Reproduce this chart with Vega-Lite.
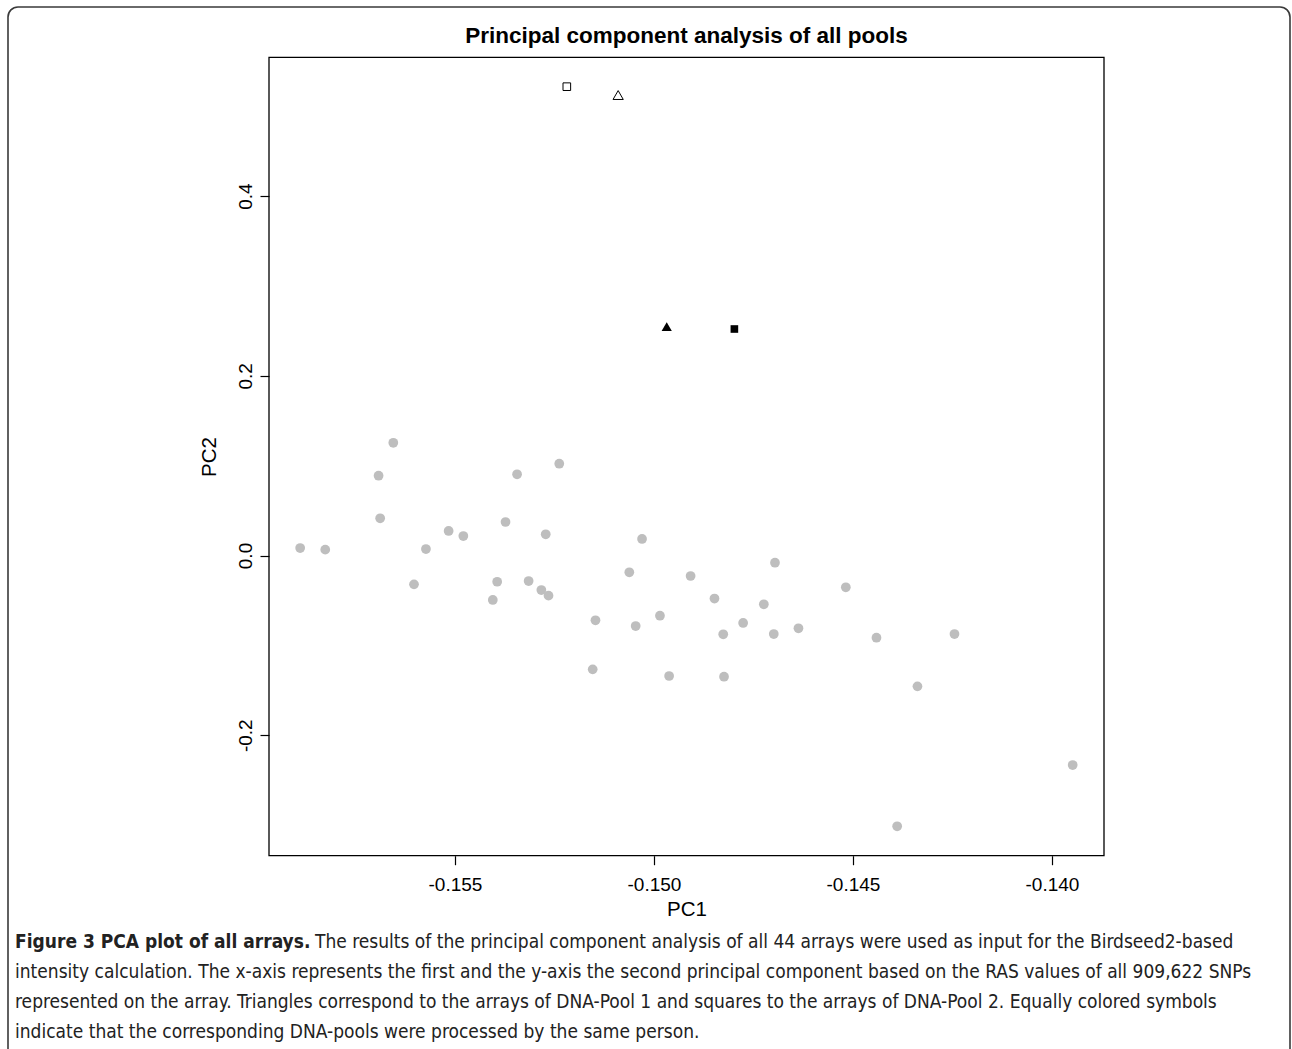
{
  "$schema": "https://vega.github.io/schema/vega-lite/v6.json",
  "width": 1282,
  "height": 1060,
  "autosize": {"type": "none"},
  "padding": {"left": 8, "top": 7, "right": 2, "bottom": 0},
  "background": "white",
  "config": {
    "view": {"stroke": "#3a3a3a", "strokeWidth": 1.6, "cornerRadius": 10, "fill": "white"},
    "font": "Liberation Sans"
  },
  "title": {
    "text": "Principal component analysis of all pools",
    "orient": "top",
    "anchor": "middle",
    "frame": "group",
    "offset": -58,
    "baseline": "alphabetic",
    "dx": 37.5,
    "font": "Liberation Sans",
    "fontSize": 22.5,
    "fontWeight": "bold",
    "color": "black"
  },
  "datasets": {
    "points": [
      {"pc1": -0.15889, "pc2": 0.0083, "pool": "none", "person": "none"},
      {"pc1": -0.15826, "pc2": 0.0065, "pool": "none", "person": "none"},
      {"pc1": -0.15692, "pc2": 0.0888, "pool": "none", "person": "none"},
      {"pc1": -0.15688, "pc2": 0.0414, "pool": "none", "person": "none"},
      {"pc1": -0.15655, "pc2": 0.1255, "pool": "none", "person": "none"},
      {"pc1": -0.15603, "pc2": -0.0321, "pool": "none", "person": "none"},
      {"pc1": -0.15573, "pc2": 0.0072, "pool": "none", "person": "none"},
      {"pc1": -0.15516, "pc2": 0.0273, "pool": "none", "person": "none"},
      {"pc1": -0.15479, "pc2": 0.0217, "pool": "none", "person": "none"},
      {"pc1": -0.15405, "pc2": -0.0495, "pool": "none", "person": "none"},
      {"pc1": -0.15394, "pc2": -0.0292, "pool": "none", "person": "none"},
      {"pc1": -0.15373, "pc2": 0.0373, "pool": "none", "person": "none"},
      {"pc1": -0.15344, "pc2": 0.0904, "pool": "none", "person": "none"},
      {"pc1": -0.15315, "pc2": -0.0284, "pool": "none", "person": "none"},
      {"pc1": -0.15283, "pc2": -0.0384, "pool": "none", "person": "none"},
      {"pc1": -0.15272, "pc2": 0.0236, "pool": "none", "person": "none"},
      {"pc1": -0.15265, "pc2": -0.0447, "pool": "none", "person": "none"},
      {"pc1": -0.15238, "pc2": 0.1022, "pool": "none", "person": "none"},
      {"pc1": -0.15154, "pc2": -0.1267, "pool": "none", "person": "none"},
      {"pc1": -0.15147, "pc2": -0.0721, "pool": "none", "person": "none"},
      {"pc1": -0.15062, "pc2": -0.0187, "pool": "none", "person": "none"},
      {"pc1": -0.15046, "pc2": -0.0785, "pool": "none", "person": "none"},
      {"pc1": -0.1503, "pc2": 0.0184, "pool": "none", "person": "none"},
      {"pc1": -0.14985, "pc2": -0.067, "pool": "none", "person": "none"},
      {"pc1": -0.14962, "pc2": -0.1341, "pool": "none", "person": "none"},
      {"pc1": -0.14908, "pc2": -0.0228, "pool": "none", "person": "none"},
      {"pc1": -0.14848, "pc2": -0.0479, "pool": "none", "person": "none"},
      {"pc1": -0.14826, "pc2": -0.0877, "pool": "none", "person": "none"},
      {"pc1": -0.14824, "pc2": -0.1349, "pool": "none", "person": "none"},
      {"pc1": -0.14776, "pc2": -0.0751, "pool": "none", "person": "none"},
      {"pc1": -0.14724, "pc2": -0.0543, "pool": "none", "person": "none"},
      {"pc1": -0.14699, "pc2": -0.0874, "pool": "none", "person": "none"},
      {"pc1": -0.14696, "pc2": -0.008, "pool": "none", "person": "none"},
      {"pc1": -0.14637, "pc2": -0.081, "pool": "none", "person": "none"},
      {"pc1": -0.14518, "pc2": -0.0354, "pool": "none", "person": "none"},
      {"pc1": -0.14441, "pc2": -0.0915, "pool": "none", "person": "none"},
      {"pc1": -0.14389, "pc2": -0.3014, "pool": "none", "person": "none"},
      {"pc1": -0.14338, "pc2": -0.1456, "pool": "none", "person": "none"},
      {"pc1": -0.14245, "pc2": -0.0874, "pool": "none", "person": "none"},
      {"pc1": -0.13948, "pc2": -0.2332, "pool": "none", "person": "none"},
      {"pc1": -0.15219, "pc2": 0.5218, "pool": "DNA-Pool 2", "person": "A"},
      {"pc1": -0.1509, "pc2": 0.5125, "pool": "DNA-Pool 1", "person": "A"},
      {"pc1": -0.14968, "pc2": 0.2547, "pool": "DNA-Pool 1", "person": "B"},
      {"pc1": -0.14798, "pc2": 0.2521, "pool": "DNA-Pool 2", "person": "B"}
    ],
    "caption": [
      {"line": 1, "part": "bold", "text": "Figure 3 PCA plot of all arrays."},
      {"line": 1, "part": "first", "text": "The results of the principal component analysis of all 44 arrays were used as input for the Birdseed2-based"},
      {"line": 2, "part": "body", "text": "intensity calculation. The x-axis represents the first and the y-axis the second principal component based on the RAS values of all 909,622 SNPs"},
      {"line": 3, "part": "body", "text": "represented on the array. Triangles correspond to the arrays of DNA-Pool 1 and squares to the arrays of DNA-Pool 2. Equally colored symbols"},
      {"line": 4, "part": "body", "text": "indicate that the corresponding DNA-pools were processed by the same person."}
    ]
  },
  "layer": [
    {
      "layer": [
        {
          "data": {"values": [{}]},
          "mark": {"type": "rect", "fill": null, "filled": false, "stroke": "black", "strokeWidth": 1.3},
          "encoding": {
            "x": {"datum": -0.159673, "type": "quantitative",
              "scale": {"domain": [-0.159673, -0.138693], "range": [261, 1096], "nice": false, "zero": false},
              "axis": {"values": [-0.155, -0.15, -0.145, -0.14], "labelExpr": "replace(format(datum.value, '.3f'), '\u2212', '-')", "offset": -211.3, "domain": false, "grid": false, "ticks": true, "tickSize": 9, "tickColor": "black", "tickWidth": 1.2, "labelFont": "Liberation Sans", "labelFontSize": 19, "labelColor": "black", "labelPadding": 11, "labelFlush": false, "labelOverlap": false, "title": "PC1", "titleFont": "Liberation Sans", "titleFontSize": 20.5, "titleFontWeight": "normal", "titleColor": "black", "titlePadding": 5}},
            "x2": {"datum": -0.138693},
            "y": {"datum": -0.3341, "type": "quantitative",
              "scale": {"domain": [-0.3341, 0.5545], "range": [848.7, 50.3], "nice": false, "zero": false},
              "axis": {"values": [-0.2, 0, 0.2, 0.4], "labelExpr": "replace(format(datum.value, '.1f'), '\u2212', '-')", "offset": -261, "domain": false, "grid": false, "ticks": true, "tickSize": 9, "tickColor": "black", "tickWidth": 1.2, "labelFont": "Liberation Sans", "labelFontSize": 19, "labelColor": "black", "labelAngle": 270, "labelAlign": "center", "labelBaseline": "bottom", "labelPadding": 5, "labelOverlap": false, "title": "PC2", "titleFont": "Liberation Sans", "titleFontSize": 20.5, "titleFontWeight": "normal", "titleColor": "black", "titlePadding": 17}},
            "y2": {"datum": 0.5545}
          }
        },
        {
          "data": {"name": "points"},
          "transform": [{"filter": "datum.pool === 'none'"}],
          "mark": {"type": "point", "shape": "circle", "filled": true, "size": 95, "color": "#bebebe", "opacity": 1},
          "encoding": {
            "x": {"field": "pc1", "type": "quantitative"},
            "y": {"field": "pc2", "type": "quantitative"}
          }
        },
        {
          "data": {"name": "points"},
          "transform": [{"filter": "datum.person === 'A'"}],
          "mark": {"type": "point", "filled": false, "stroke": "black", "strokeWidth": 1, "opacity": 1},
          "encoding": {
            "x": {"field": "pc1", "type": "quantitative"},
            "y": {"field": "pc2", "type": "quantitative"},
            "shape": {"field": "pool", "type": "nominal", "scale": {"domain": ["DNA-Pool 1", "DNA-Pool 2"], "range": ["triangle-up", "square"]}, "legend": null},
            "size": {"field": "pool", "type": "nominal", "scale": {"domain": ["DNA-Pool 1", "DNA-Pool 2"], "range": [105, 58]}, "legend": null}
          }
        },
        {
          "data": {"name": "points"},
          "transform": [{"filter": "datum.person === 'B'"}],
          "mark": {"type": "point", "filled": true, "color": "black", "opacity": 1},
          "encoding": {
            "x": {"field": "pc1", "type": "quantitative"},
            "y": {"field": "pc2", "type": "quantitative"},
            "shape": {"field": "pool", "type": "nominal", "scale": {"domain": ["DNA-Pool 1", "DNA-Pool 2"], "range": ["triangle-up", "square"]}, "legend": null},
            "size": {"field": "pool", "type": "nominal", "scale": {"domain": ["DNA-Pool 1", "DNA-Pool 2"], "range": [120, 78]}, "legend": null}
          }
        }
      ]
    },
    {
      "data": {"name": "caption"},
      "encoding": {
        "y": {"field": "line", "type": "ordinal", "scale": {"type": "point", "domain": [1, 2, 3, 4], "range": [935, 1025], "padding": 0}, "axis": null}
      },
      "layer": [
        {
          "transform": [{"filter": "datum.part === 'bold'"}],
          "mark": {"type": "text", "align": "left", "baseline": "middle", "font": "DejaVu Sans Condensed, DejaVu Sans, sans-serif", "fontSize": 19, "fontWeight": "bold", "color": "#222222"},
          "encoding": {"x": {"value": 7}, "text": {"field": "text"}}
        },
        {
          "transform": [{"filter": "datum.part === 'first'"}],
          "mark": {"type": "text", "align": "left", "baseline": "middle", "font": "DejaVu Sans Condensed, DejaVu Sans, sans-serif", "fontSize": 19, "color": "#222222"},
          "encoding": {"x": {"value": 307}, "text": {"field": "text"}}
        },
        {
          "transform": [{"filter": "datum.part === 'body'"}],
          "mark": {"type": "text", "align": "left", "baseline": "middle", "font": "DejaVu Sans Condensed, DejaVu Sans, sans-serif", "fontSize": 19, "color": "#222222"},
          "encoding": {"x": {"value": 7}, "text": {"field": "text"}}
        }
      ]
    }
  ],
  "resolve": {"scale": {"x": "independent", "y": "independent"}}
}
